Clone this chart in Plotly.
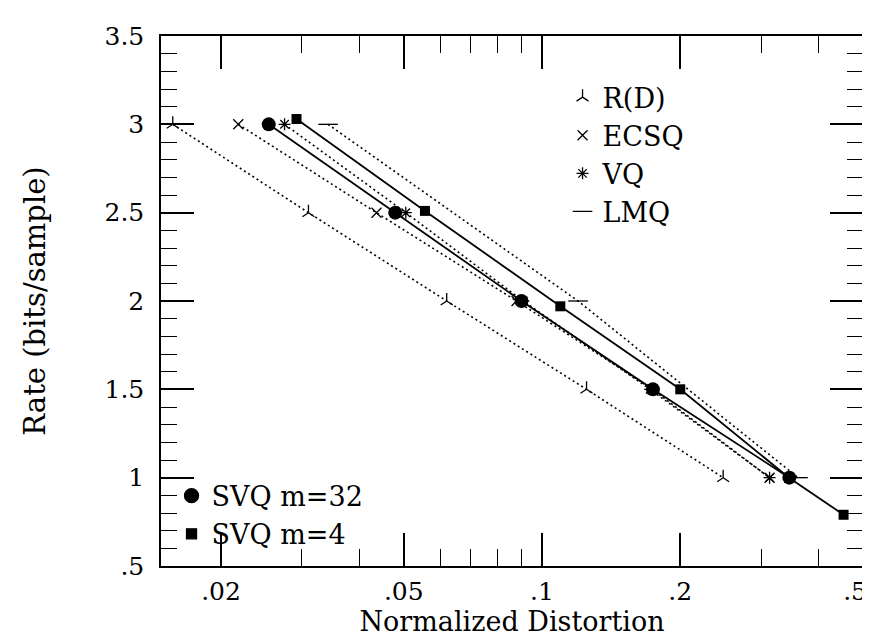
import plotly.graph_objects as go
import math

# ---- data ----
rd_rate = [3.0, 2.5, 2.0, 1.5, 1.0]
rd_dist = [0.0157, 0.031, 0.062, 0.125, 0.248]

ecsq_rate = [3.0, 2.5, 2.0, 1.5, 1.0]
ecsq_dist = [0.0218, 0.0436, 0.088, 0.174, 0.313]

vq_rate = [3.0, 2.5, 2.0, 1.5, 1.0]
vq_dist = [0.0275, 0.0505, 0.091, 0.172, 0.313]

lmq_rate = [3.0, 2.0, 1.0]
lmq_dist = [0.0342, 0.1198, 0.361]

svq32_rate = [3.0, 2.5, 2.0, 1.5, 1.0]
svq32_dist = [0.0254, 0.0479, 0.0902, 0.1744, 0.3456]

svq4_rate = [3.03, 2.51, 1.97, 1.5, 1.0, 0.79]
svq4_dist = [0.0292, 0.0556, 0.1096, 0.200, 0.345, 0.4536]

x_ticks = [0.02, 0.05, 0.1, 0.2, 0.5]
x_ticktext = [".02", ".05", ".1", ".2", ".5\u00a0\u00a0"]
x_minor = [0.03, 0.04, 0.06, 0.07, 0.08, 0.09, 0.3, 0.4]
y_ticks = [0.5, 1.0, 1.5, 2.0, 2.5, 3.0, 3.5]
y_ticktext = [".5", "1", "1.5", "2", "2.5", "3", "3.5"]

FONT = "DejaVu Serif"
BLK = "black"
DOT = "2px,3px"

fig = go.Figure()

def dotted(x, y, sym, size):
    fig.add_trace(go.Scatter(
        x=x, y=y, mode="lines+markers",
        line=dict(color=BLK, width=1.6, dash=DOT),
        marker=dict(symbol=sym, size=size, color=BLK, line=dict(color=BLK, width=1.3)),
        showlegend=False, hoverinfo="skip"))

dotted(rd_dist, rd_rate, "y-up-open", 10)
dotted(ecsq_dist, ecsq_rate, "x-thin-open", 10)
dotted(vq_dist, vq_rate, "asterisk-open", 10)
dotted(lmq_dist, lmq_rate, "line-ew-open", 14)

fig.add_trace(go.Scatter(
    x=svq4_dist, y=svq4_rate, mode="lines+markers",
    line=dict(color=BLK, width=1.8),
    marker=dict(symbol="square", size=10, color=BLK),
    showlegend=False, hoverinfo="skip"))
fig.add_trace(go.Scatter(
    x=svq32_dist, y=svq32_rate, mode="lines+markers",
    line=dict(color=BLK, width=1.8),
    marker=dict(symbol="circle", size=14, color=BLK),
    showlegend=False, hoverinfo="skip"))

# legend-only entries (markers only)
def leg(name, sym, size, legend):
    fig.add_trace(go.Scatter(
        x=[None], y=[None], mode="markers", name=name,
        marker=dict(symbol=sym, size=size, color=BLK,
                    line=dict(color=BLK, width=1.3)),
        legend=legend, hoverinfo="skip"))

leg("R(D)", "y-up-open", 10, "legend")
leg("ECSQ", "x-thin-open", 10, "legend")
leg("VQ", "asterisk-open", 10, "legend")
leg("LMQ", "line-ew-open", 14, "legend")
leg("SVQ m=32", "circle", 14, "legend2")
leg("SVQ m=4", "square", 10, "legend2")

axis_common = dict(
    showline=True, linecolor=BLK, linewidth=1.5, mirror="allticks",
    ticks="inside", ticklen=33, tickwidth=1.5, tickcolor=BLK,
    showgrid=False, zeroline=False,
    tickfont=dict(family=FONT, size=25, color=BLK),
    ticklabeloverflow="allow",
)

fig.update_xaxes(
    type="log", range=[math.log10(0.0148), math.log10(0.5)],
    tickmode="array", tickvals=x_ticks, ticktext=x_ticktext,
    minor=dict(tickmode="array", tickvals=x_minor, ticks="inside",
               ticklen=17, tickwidth=1.3, tickcolor=BLK, showgrid=False),
    title=dict(text="Normalized Distortion", font=dict(family=FONT, size=27, color=BLK),
               standoff=3),
    ticklabelstandoff=2,
    **axis_common)
fig.update_yaxes(
    range=[0.5, 3.5], tickmode="array", tickvals=y_ticks, ticktext=y_ticktext,
    minor=dict(dtick=0.1, tick0=0.5, ticks="inside", ticklen=16,
               tickwidth=1.3, tickcolor=BLK, showgrid=False),
    title=dict(text="Rate (bits/sample)", font=dict(family=FONT, size=29, color=BLK),
               standoff=50),
    ticklabelstandoff=10,
    **axis_common)

legfont = dict(family=FONT, size=27, color=BLK)
fig.update_layout(
    width=870, height=637,
    margin=dict(l=153, r=15, t=28, b=79, autoexpand=False),
    paper_bgcolor="white", plot_bgcolor="white",
    font=dict(family=FONT, color=BLK),
    legend=dict(x=0.572, y=0.93, xanchor="left", yanchor="top",
                font=legfont, bgcolor="rgba(0,0,0,0)", borderwidth=0,
                itemsizing="trace", tracegroupgap=0),
    legend2=dict(x=0.015, y=0.178, xanchor="left", yanchor="top",
                 font=legfont, bgcolor="rgba(0,0,0,0)", borderwidth=0,
                 itemsizing="trace"),
)

fig.write_html("out.html")
